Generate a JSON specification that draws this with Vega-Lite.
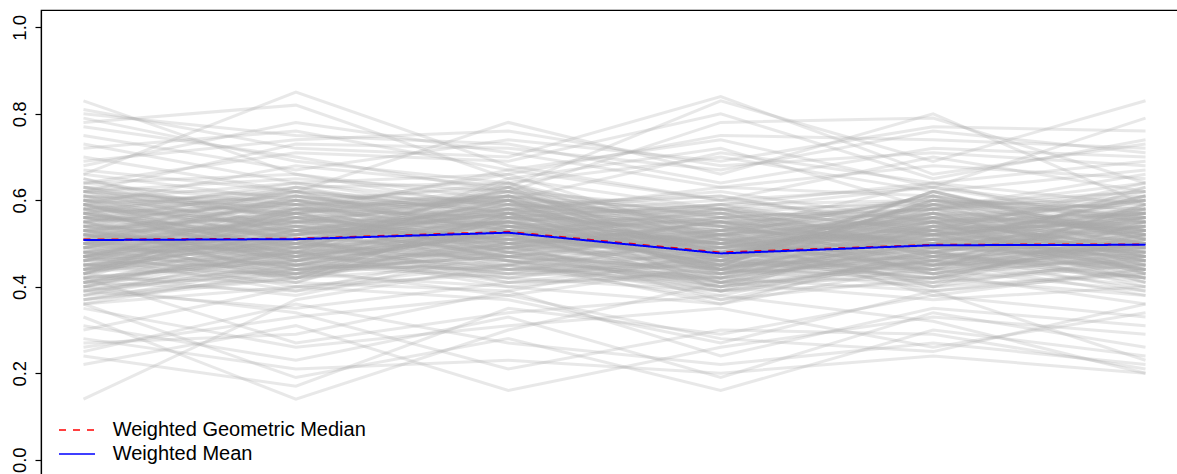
{
"$schema": "https://vega.github.io/schema/vega-lite/v6.json",
"width": 1147,
"height": 467,
"autosize": "none",
"padding": {"left": 41, "top": 10, "right": 0, "bottom": 0},
"background": "white",
"config": {
  "view": {"stroke": "black", "strokeWidth": 1.2},
  "axis": {"labelFontSize": 18.5, "labelFont": "Liberation Sans"},
  "legend": {"orient": "none", "legendX": 25, "legendY": 409, "padding": 0, "symbolType": "M-1.8,0H1.8", "symbolSize": 400, "symbolStrokeWidth": 1.5, "symbolOpacity": 1, "labelFont": "Liberation Sans", "labelFontSize": 20, "labelColor": "black", "labelOffset": 24.7, "rowPadding": 3, "labelLimit": 0}
},
"layer": [
  {
    "data": {"values": "i,x,y\n1,1,.14\n1,2,.37\n1,3,.45\n1,4,.52\n1,5,.48\n1,6,.55\n2,1,.33\n2,2,.14\n2,3,.30\n2,4,.41\n2,5,.46\n2,6,.40\n3,1,.24\n3,2,.17\n3,3,.35\n3,4,.29\n3,5,.38\n3,6,.33\n4,1,.22\n4,2,.31\n4,3,.16\n4,4,.26\n4,5,.33\n4,6,.29\n5,1,.36\n5,2,.19\n5,3,.28\n5,4,.16\n5,5,.30\n5,6,.24\n6,1,.28\n6,2,.21\n6,3,.23\n6,4,.20\n6,5,.24\n6,6,.20\n7,1,.25\n7,2,.36\n7,3,.27\n7,4,.22\n7,5,.27\n7,6,.22\n8,1,.31\n8,2,.23\n8,3,.33\n8,4,.19\n8,5,.34\n8,6,.26\n9,1,.40\n9,2,.34\n9,3,.21\n9,4,.30\n9,5,.29\n9,6,.21\n10,1,.27\n10,2,.29\n10,3,.39\n10,4,.24\n10,5,.35\n10,6,.31\n11,1,.35\n11,2,.26\n11,3,.31\n11,4,.35\n11,5,.26\n11,6,.34\n12,1,.30\n12,2,.40\n12,3,.37\n12,4,.27\n12,5,.39\n12,6,.23\n13,1,.83\n13,2,.66\n13,3,.60\n13,4,.71\n13,5,.64\n13,6,.69\n14,1,.66\n14,2,.85\n14,3,.68\n14,4,.60\n14,5,.70\n14,6,.62\n15,1,.78\n15,2,.82\n15,3,.65\n15,4,.72\n15,5,.58\n15,6,.66\n16,1,.81\n16,2,.72\n16,3,.70\n16,4,.84\n16,5,.66\n16,6,.73\n17,1,.70\n17,2,.62\n17,3,.78\n17,4,.66\n17,5,.80\n17,6,.59\n18,1,.59\n18,2,.68\n18,3,.63\n18,4,.83\n18,5,.69\n18,6,.83\n19,1,.80\n19,2,.75\n19,3,.73\n19,4,.64\n19,5,.72\n19,6,.70\n20,1,.77\n20,2,.70\n20,3,.62\n20,4,.78\n20,5,.79\n20,6,.64\n21,1,.72\n21,2,.76\n21,3,.67\n21,4,.74\n21,5,.63\n21,6,.79\n22,1,.75\n22,2,.67\n22,3,.74\n22,4,.69\n22,5,.77\n22,6,.76\n23,1,.69\n23,2,.74\n23,3,.76\n23,4,.68\n23,5,.71\n23,6,.68\n24,1,.64\n24,2,.71\n24,3,.69\n24,4,.80\n24,5,.65\n24,6,.74\n25,1,.73\n25,2,.64\n25,3,.66\n25,4,.75\n25,5,.74\n25,6,.72\n26,1,.68\n26,2,.78\n26,3,.71\n26,4,.63\n26,5,.68\n26,6,.65\n27,1,.79\n27,2,.69\n27,3,.64\n27,4,.70\n27,5,.62\n27,6,.67\n28,1,.62\n28,2,.73\n28,3,.72\n28,4,.67\n28,5,.76\n28,6,.71\n29,1,.26\n29,2,.33\n29,3,.38\n29,4,.28\n29,5,.25\n29,6,.36\n30,1,.42\n30,2,.27\n30,3,.34\n30,4,.38\n30,5,.32\n30,6,.20\n31,1,.52\n31,2,.48\n31,3,.55\n31,4,.44\n31,5,.50\n31,6,.47\n32,1,.45\n32,2,.50\n32,3,.47\n32,4,.52\n32,5,.43\n32,6,.49\n33,1,.58\n33,2,.61\n33,3,.55\n33,4,.50\n33,5,.57\n33,6,.53\n34,1,.41\n34,2,.44\n34,3,.49\n34,4,.40\n34,5,.46\n34,6,.51\n35,1,.63\n35,2,.57\n35,3,.60\n35,4,.55\n35,5,.52\n35,6,.58\n36,1,.49\n36,2,.53\n36,3,.58\n36,4,.47\n36,5,.55\n36,6,.44\n37,1,.37\n37,2,.42\n37,3,.45\n37,4,.39\n37,5,.41\n37,6,.46\n38,1,.55\n38,2,.46\n38,3,.52\n38,4,.58\n38,5,.49\n38,6,.56\n39,1,.60\n39,2,.64\n39,3,.57\n39,4,.52\n39,5,.61\n39,6,.55\n40,1,.47\n40,2,.39\n40,3,.44\n40,4,.42\n40,5,.48\n40,6,.41\n41,1,.53\n41,2,.57\n41,3,.62\n41,4,.48\n41,5,.45\n41,6,.50\n42,1,.44\n42,2,.51\n42,3,.41\n42,4,.46\n42,5,.53\n42,6,.48\n43,1,.66\n43,2,.60\n43,3,.63\n43,4,.56\n43,5,.59\n43,6,.62\n44,1,.39\n44,2,.45\n44,3,.50\n44,4,.37\n44,5,.42\n44,6,.38\n45,1,.51\n45,2,.55\n45,3,.49\n45,4,.53\n45,5,.58\n45,6,.52\n46,1,.57\n46,2,.49\n46,3,.54\n46,4,.45\n46,5,.51\n46,6,.60\n47,1,.42\n47,2,.47\n47,3,.53\n47,4,.49\n47,5,.39\n47,6,.44\n48,1,.61\n48,2,.58\n48,3,.66\n48,4,.51\n48,5,.56\n48,6,.54\n49,1,.48\n49,2,.43\n49,3,.46\n49,4,.41\n49,5,.50\n49,6,.57\n50,1,.54\n50,2,.62\n50,3,.59\n50,4,.57\n50,5,.47\n50,6,.49\n51,1,.36\n51,2,.40\n51,3,.43\n51,4,.45\n51,5,.44\n51,6,.39\n52,1,.59\n52,2,.53\n52,3,.50\n52,4,.46\n52,5,.54\n52,6,.61\n53,1,.46\n53,2,.56\n53,3,.61\n53,4,.54\n53,5,.60\n53,6,.51\n54,1,.50\n54,2,.45\n54,3,.42\n54,4,.39\n54,5,.47\n54,6,.45\n55,1,.64\n55,2,.66\n55,3,.58\n55,4,.62\n55,5,.55\n55,6,.57\n56,1,.43\n56,2,.38\n56,3,.48\n56,4,.44\n56,5,.40\n56,6,.43\n57,1,.56\n57,2,.52\n57,3,.57\n57,4,.60\n57,5,.63\n57,6,.55\n58,1,.40\n58,2,.48\n58,3,.40\n58,4,.36\n58,5,.45\n58,6,.47\n59,1,.62\n59,2,.59\n59,3,.64\n59,4,.53\n59,5,.58\n59,6,.64\n60,1,.47\n60,2,.54\n60,3,.51\n60,4,.50\n60,5,.52\n60,6,.42\n61,1,.53\n61,2,.44\n61,3,.47\n61,4,.43\n61,5,.49\n61,6,.53\n62,1,.38\n62,2,.46\n62,3,.52\n62,4,.41\n62,5,.37\n62,6,.40\n63,1,.58\n63,2,.63\n63,3,.56\n63,4,.59\n63,5,.64\n63,6,.59\n64,1,.45\n64,2,.41\n64,3,.39\n64,4,.48\n64,5,.43\n64,6,.50\n65,1,.51\n65,2,.58\n65,3,.60\n65,4,.44\n65,5,.53\n65,6,.46\n66,1,.65\n66,2,.55\n66,3,.61\n66,4,.57\n66,5,.60\n66,6,.56\n67,1,.41\n67,2,.49\n67,3,.44\n67,4,.51\n67,5,.46\n67,6,.38\n68,1,.55\n68,2,.60\n68,3,.53\n68,4,.47\n68,5,.42\n68,6,.52\n69,1,.49\n69,2,.42\n69,3,.57\n69,4,.43\n69,5,.55\n69,6,.60\n70,1,.60\n70,2,.51\n70,3,.49\n70,4,.55\n70,5,.50\n70,6,.48\n71,1,.44\n71,2,.53\n71,3,.46\n71,4,.38\n71,5,.48\n71,6,.54\n72,1,.52\n72,2,.47\n72,3,.63\n72,4,.52\n72,5,.57\n72,6,.45\n73,1,.39\n73,2,.35\n73,3,.41\n73,4,.42\n73,5,.39\n73,6,.43\n74,1,.57\n74,2,.64\n74,3,.59\n74,4,.61\n74,5,.53\n74,6,.63\n75,1,.48\n75,2,.52\n75,3,.55\n75,4,.46\n75,5,.62\n75,6,.50\n76,1,.63\n76,2,.56\n76,3,.51\n76,4,.49\n76,5,.56\n76,6,.47\n77,1,.46\n77,2,.44\n77,3,.38\n77,4,.45\n77,5,.41\n77,6,.55\n78,1,.54\n78,2,.50\n78,3,.58\n78,4,.54\n78,5,.48\n78,6,.42\n79,1,.42\n79,2,.57\n79,3,.48\n79,4,.40\n79,5,.51\n79,6,.49\n80,1,.59\n80,2,.48\n80,3,.65\n80,4,.58\n80,5,.59\n80,6,.57\n81,1,.50\n81,2,.61\n81,3,.54\n81,4,.50\n81,5,.45\n81,6,.53\n82,1,.37\n82,2,.43\n82,3,.51\n82,4,.47\n82,5,.43\n82,6,.36\n83,1,.61\n83,2,.54\n83,3,.47\n83,4,.44\n83,5,.58\n83,6,.61\n84,1,.44\n84,2,.46\n84,3,.56\n84,4,.53\n84,5,.40\n84,6,.47\n85,1,.56\n85,2,.59\n85,3,.50\n85,4,.56\n85,5,.54\n85,6,.58\n86,1,.48\n86,2,.40\n86,3,.45\n86,4,.37\n86,5,.47\n86,6,.44\n87,1,.67\n87,2,.62\n87,3,.57\n87,4,.63\n87,5,.61\n87,6,.52\n88,1,.43\n88,2,.50\n88,3,.60\n88,4,.42\n88,5,.52\n88,6,.56\n89,1,.53\n89,2,.45\n89,3,.53\n89,4,.48\n89,5,.56\n89,6,.48\n90,1,.58\n90,2,.55\n90,3,.62\n90,4,.51\n90,5,.44\n90,6,.59\n91,1,.40\n91,2,.51\n91,3,.42\n91,4,.49\n91,5,.55\n91,6,.41\n92,1,.55\n92,2,.42\n92,3,.49\n92,4,.41\n92,5,.50\n92,6,.54\n93,1,.47\n93,2,.58\n93,3,.56\n93,4,.55\n93,5,.49\n93,6,.46\n94,1,.62\n94,2,.52\n94,3,.59\n94,4,.48\n94,5,.57\n94,6,.50\n95,1,.45\n95,2,.47\n95,3,.43\n95,4,.52\n95,5,.38\n95,6,.44\n96,1,.51\n96,2,.63\n96,3,.64\n96,4,.45\n96,5,.60\n96,6,.55\n97,1,.36\n97,2,.44\n97,3,.47\n97,4,.40\n97,5,.45\n97,6,.48\n98,1,.57\n98,2,.49\n98,3,.52\n98,4,.59\n98,5,.52\n98,6,.62\n99,1,.49\n99,2,.56\n99,3,.44\n99,4,.46\n99,5,.62\n99,6,.51\n100,1,.64\n100,2,.59\n100,3,.61\n100,4,.54\n100,5,.48\n100,6,.53\n101,1,.42\n101,2,.41\n101,3,.54\n101,4,.50\n101,5,.53\n101,6,.45\n102,1,.54\n102,2,.53\n102,3,.48\n102,4,.43\n102,5,.46\n102,6,.57\n103,1,.46\n103,2,.60\n103,3,.58\n103,4,.57\n103,5,.56\n103,6,.43\n104,1,.59\n104,2,.46\n104,3,.55\n104,4,.47\n104,5,.59\n104,6,.49\n105,1,.50\n105,2,.43\n105,3,.40\n105,4,.44\n105,5,.42\n105,6,.52\n106,1,.38\n106,2,.49\n106,3,.46\n106,4,.36\n106,5,.49\n106,6,.47\n107,1,.60\n107,2,.57\n107,3,.67\n107,4,.60\n107,5,.55\n107,6,.60\n108,1,.48\n108,2,.54\n108,3,.50\n108,4,.53\n108,5,.51\n108,6,.40\n109,1,.55\n109,2,.48\n109,3,.43\n109,4,.42\n109,5,.61\n109,6,.56\n110,1,.43\n110,2,.55\n110,3,.57\n110,4,.48\n110,5,.44\n110,6,.50\n111,1,.52\n111,2,.62\n111,3,.52\n111,4,.56\n111,5,.58\n111,6,.46\n112,1,.65\n112,2,.53\n112,3,.56\n112,4,.50\n112,5,.53\n112,6,.64\n113,1,.41\n113,2,.39\n113,3,.49\n113,4,.45\n113,5,.47\n113,6,.42\n114,1,.57\n114,2,.51\n114,3,.60\n114,4,.39\n114,5,.54\n114,6,.52\n115,1,.47\n115,2,.45\n115,3,.53\n115,4,.51\n115,5,.40\n115,6,.55\n116,1,.53\n116,2,.59\n116,3,.46\n116,4,.47\n116,5,.57\n116,6,.48\n117,1,.62\n117,2,.65\n117,3,.62\n117,4,.58\n117,5,.63\n117,6,.57\n118,1,.44\n118,2,.48\n118,3,.41\n118,4,.43\n118,5,.50\n118,6,.61\n119,1,.50\n119,2,.56\n119,3,.58\n119,4,.54\n119,5,.46\n119,6,.45\n120,1,.39\n120,2,.47\n120,3,.52\n120,4,.46\n120,5,.42\n120,6,.51\n121,1,.56\n121,2,.44\n121,3,.50\n121,4,.52\n121,5,.55\n121,6,.42\n122,1,.61\n122,2,.60\n122,3,.54\n122,4,.45\n122,5,.60\n122,6,.58\n123,1,.46\n123,2,.52\n123,3,.47\n123,4,.49\n123,5,.52\n123,6,.49\n124,1,.52\n124,2,.41\n124,3,.56\n124,4,.41\n124,5,.48\n124,6,.54\n125,1,.58\n125,2,.57\n125,3,.61\n125,4,.55\n125,5,.43\n125,6,.47\n126,1,.43\n126,2,.53\n126,3,.45\n126,4,.56\n126,5,.58\n126,6,.59\n127,1,.49\n127,2,.49\n127,3,.59\n127,4,.48\n127,5,.51\n127,6,.44\n128,1,.54\n128,2,.46\n128,3,.51\n128,4,.53\n128,5,.64\n128,6,.53\n129,1,.40\n129,2,.43\n129,3,.48\n129,4,.39\n129,5,.44\n129,6,.46\n130,1,.63\n130,2,.61\n130,3,.53\n130,4,.57\n130,5,.49\n130,6,.56\n131,1,.47\n131,2,.50\n131,3,.63\n131,4,.44\n131,5,.54\n131,6,.50\n132,1,.55\n132,2,.58\n132,3,.49\n132,4,.50\n132,5,.47\n132,6,.63\n133,1,.45\n133,2,.54\n133,3,.55\n133,4,.58\n133,5,.53\n133,6,.41\n134,1,.51\n134,2,.42\n134,3,.57\n134,4,.46\n134,5,.59\n134,6,.52\n135,1,.59\n135,2,.62\n135,3,.50\n135,4,.52\n135,5,.56\n135,6,.60\n136,1,.37\n136,2,.45\n136,3,.44\n136,4,.43\n136,5,.51\n136,6,.49\n137,1,.53\n137,2,.48\n137,3,.64\n137,4,.50\n137,5,.41\n137,6,.45\n138,1,.48\n138,2,.57\n138,3,.52\n138,4,.41\n138,5,.55\n138,6,.57\n139,1,.60\n139,2,.53\n139,3,.58\n139,4,.61\n139,5,.52\n139,6,.54\n140,1,.42\n140,2,.46\n140,3,.42\n140,4,.47\n140,5,.48\n140,6,.39\n141,1,.56\n141,2,.55\n141,3,.55\n141,4,.45\n141,5,.62\n141,6,.51\n142,1,.50\n142,2,.60\n142,3,.48\n142,4,.55\n142,5,.45\n142,6,.56\n143,1,.45\n143,2,.43\n143,3,.57\n143,4,.52\n143,5,.50\n143,6,.48\n144,1,.61\n144,2,.50\n144,3,.60\n144,4,.49\n144,5,.58\n144,6,.62\n145,1,.47\n145,2,.57\n145,3,.46\n145,4,.42\n145,5,.53\n145,6,.46\n146,1,.54\n146,2,.52\n146,3,.62\n146,4,.56\n146,5,.46\n146,6,.50\n147,1,.41\n147,2,.48\n147,3,.51\n147,4,.48\n147,5,.57\n147,6,.53\n148,1,.58\n148,2,.45\n148,3,.53\n148,4,.44\n148,5,.52\n148,6,.44\n149,1,.49\n149,2,.61\n149,3,.56\n149,4,.59\n149,5,.60\n149,6,.58\n150,1,.52\n150,2,.44\n150,3,.45\n150,4,.51\n150,5,.49\n150,6,.55\n151,1,.46\n151,2,.55\n151,3,.60\n151,4,.46\n151,5,.44\n151,6,.52\n152,1,.57\n152,2,.51\n152,3,.50\n152,4,.54\n152,5,.55\n152,6,.47\n153,1,.43\n153,2,.58\n153,3,.53\n153,4,.50\n153,5,.59\n153,6,.60\n154,1,.60\n154,2,.47\n154,3,.57\n154,4,.43\n154,5,.47\n154,6,.49\n155,1,.50\n155,2,.54\n155,3,.47\n155,4,.52\n155,5,.61\n155,6,.43\n156,1,.38\n156,2,.42\n156,3,.50\n156,4,.44\n156,5,.43\n156,6,.50\n157,1,.55\n157,2,.63\n157,3,.54\n157,4,.57\n157,5,.52\n157,6,.56\n158,1,.48\n158,2,.49\n158,3,.61\n158,4,.47\n158,5,.56\n158,6,.53\n159,1,.62\n159,2,.56\n159,3,.48\n159,4,.53\n159,5,.50\n159,6,.45\n160,1,.44\n160,2,.51\n160,3,.55\n160,4,.49\n160,5,.48\n160,6,.58\n161,1,.53\n161,2,.47\n161,3,.52\n161,4,.40\n161,5,.54\n161,6,.48\n162,1,.57\n162,2,.59\n162,3,.59\n162,4,.55\n162,5,.58\n162,6,.52\n163,1,.45\n163,2,.45\n163,3,.44\n163,4,.45\n163,5,.45\n163,6,.54\n164,1,.51\n164,2,.52\n164,3,.58\n164,4,.51\n164,5,.52\n164,6,.46\n165,1,.59\n165,2,.54\n165,3,.51\n165,4,.58\n165,5,.47\n165,6,.57\n166,1,.47\n166,2,.56\n166,3,.54\n166,4,.48\n166,5,.50\n166,6,.50\n167,1,.52\n167,2,.50\n167,3,.49\n167,4,.55\n167,5,.53\n167,6,.55\n168,1,.49\n168,2,.47\n168,3,.56\n168,4,.50\n168,5,.49\n168,6,.51\n169,1,.56\n169,2,.53\n169,3,.52\n169,4,.46\n169,5,.55\n169,6,.49\n170,1,.50\n170,2,.51\n170,3,.54\n170,4,.52\n170,5,.51\n170,6,.53\n171,1,.46\n171,2,.49\n171,3,.53\n171,4,.45\n171,5,.47\n171,6,.52\n172,1,.54\n172,2,.56\n172,3,.50\n172,4,.49\n172,5,.54\n172,6,.44\n173,1,.41\n173,2,.52\n173,3,.57\n173,4,.44\n173,5,.52\n173,6,.56\n174,1,.58\n174,2,.46\n174,3,.48\n174,4,.52\n174,5,.45\n174,6,.50\n175,1,.49\n175,2,.58\n175,3,.61\n175,4,.43\n175,5,.56\n175,6,.47\n176,1,.44\n176,2,.43\n176,3,.50\n176,4,.55\n176,5,.49\n176,6,.61\n177,1,.60\n177,2,.55\n177,3,.56\n177,4,.47\n177,5,.59\n177,6,.53\n178,1,.52\n178,2,.47\n178,3,.45\n178,4,.40\n178,5,.46\n178,6,.42\n179,1,.47\n179,2,.53\n179,3,.59\n179,4,.56\n179,5,.52\n179,6,.57\n180,1,.56\n180,2,.50\n180,3,.43\n180,4,.46\n180,5,.42\n180,6,.48\n181,1,.43\n181,2,.59\n181,3,.52\n181,4,.50\n181,5,.57\n181,6,.46\n182,1,.63\n182,2,.52\n182,3,.57\n182,4,.54\n182,5,.50\n182,6,.58\n183,1,.51\n183,2,.44\n183,3,.54\n183,4,.45\n183,5,.60\n183,6,.51\n184,1,.40\n184,2,.50\n184,3,.46\n184,4,.42\n184,5,.48\n184,6,.44\n185,1,.57\n185,2,.61\n185,3,.60\n185,4,.58\n185,5,.53\n185,6,.55\n186,1,.48\n186,2,.45\n186,3,.49\n186,4,.51\n186,5,.44\n186,6,.59\n187,1,.53\n187,2,.57\n187,3,.63\n187,4,.46\n187,5,.55\n187,6,.49\n188,1,.45\n188,2,.48\n188,3,.47\n188,4,.53\n188,5,.51\n188,6,.43\n189,1,.59\n189,2,.51\n189,3,.55\n189,4,.44\n189,5,.57\n189,6,.56\n190,1,.50\n190,2,.55\n190,3,.51\n190,4,.57\n190,5,.47\n190,6,.52\n191,1,.42\n191,2,.46\n191,3,.58\n191,4,.49\n191,5,.54\n191,6,.47\n192,1,.55\n192,2,.60\n192,3,.53\n192,4,.42\n192,5,.49\n192,6,.54\n193,1,.47\n193,2,.42\n193,3,.52\n193,4,.47\n193,5,.58\n193,6,.50\n194,1,.61\n194,2,.57\n194,3,.49\n194,4,.55\n194,5,.45\n194,6,.46\n195,1,.52\n195,2,.49\n195,3,.60\n195,4,.51\n195,5,.51\n195,6,.60\n196,1,.39\n196,2,.44\n196,3,.47\n196,4,.41\n196,5,.42\n196,6,.45\n197,1,.56\n197,2,.62\n197,3,.57\n197,4,.53\n197,5,.61\n197,6,.51\n198,1,.46\n198,2,.51\n198,3,.44\n198,4,.48\n198,5,.53\n198,6,.57\n199,1,.53\n199,2,.46\n199,3,.55\n199,4,.59\n199,5,.48\n199,6,.42\n200,1,.58\n200,2,.54\n200,3,.62\n200,4,.49\n200,5,.55\n200,6,.55\n201,1,.44\n201,2,.56\n201,3,.51\n201,4,.44\n201,5,.50\n201,6,.48\n202,1,.50\n202,2,.48\n202,3,.59\n202,4,.54\n202,5,.43\n202,6,.53\n203,1,.62\n203,2,.58\n203,3,.54\n203,4,.50\n203,5,.59\n203,6,.47\n204,1,.48\n204,2,.50\n204,3,.46\n204,4,.39\n204,5,.46\n204,6,.56\n205,1,.54\n205,2,.43\n205,3,.56\n205,4,.52\n205,5,.56\n205,6,.50\n206,1,.43\n206,2,.53\n206,3,.61\n206,4,.47\n206,5,.52\n206,6,.44\n207,1,.57\n207,2,.47\n207,3,.52\n207,4,.56\n207,5,.48\n207,6,.59\n208,1,.51\n208,2,.60\n208,3,.50\n208,4,.45\n208,5,.62\n208,6,.52\n209,1,.45\n209,2,.52\n209,3,.55\n209,4,.50\n209,5,.44\n209,6,.49\n210,1,.59\n210,2,.49\n210,3,.58\n210,4,.48\n210,5,.54\n210,6,.54\n211,1,.49\n211,2,.57\n211,3,.48\n211,4,.43\n211,5,.50\n211,6,.61\n212,1,.55\n212,2,.45\n212,3,.54\n212,4,.55\n212,5,.57\n212,6,.45\n213,1,.41\n213,2,.48\n213,3,.49\n213,4,.46\n213,5,.45\n213,6,.51\n214,1,.60\n214,2,.59\n214,3,.60\n214,4,.52\n214,5,.53\n214,6,.57\n215,1,.47\n215,2,.51\n215,3,.57\n215,4,.58\n215,5,.49\n215,6,.47\n216,1,.52\n216,2,.55\n216,3,.47\n216,4,.44\n216,5,.60\n216,6,.53\n217,1,.56\n217,2,.48\n217,3,.53\n217,4,.49\n217,5,.46\n217,6,.58\n218,1,.44\n218,2,.58\n218,3,.56\n218,4,.53\n218,5,.55\n218,6,.43\n219,1,.53\n219,2,.53\n219,3,.51\n219,4,.47\n219,5,.51\n219,6,.50\n220,1,.50\n220,2,.50\n220,3,.55\n220,4,.51\n220,5,.52\n220,6,.55", "format": {"type": "csv", "parse": {"i": "number", "x": "number", "y": "number"}}},
    "mark": {"type": "line", "color": "#aaaaaa", "strokeWidth": 3, "strokeOpacity": 0.27},
    "encoding": {
      "x": {"field": "x", "type": "quantitative", "scale": {"domain": [0.8, 6.2], "nice": false, "zero": false}, "axis": null},
      "y": {"field": "y", "type": "quantitative", "scale": {"domain": [-0.04, 1.04], "nice": false, "zero": false}, "axis": {"values": [0, 0.2, 0.4, 0.6, 0.8, 1.0], "format": ".1f", "grid": false, "domainColor": "black", "domainWidth": 1.2, "tickColor": "black", "tickWidth": 1.2, "tickSize": 6, "labelColor": "black", "labelAngle": 270, "labelAlign": "center", "labelBaseline": "alphabetic", "labelPadding": 10, "labelOverlap": false, "labelFlush": false}, "title": null},
      "detail": {"field": "i", "type": "nominal"}
    }
  },
  {
    "data": {"values": [
      {"s": "Weighted Geometric Median", "x": 1, "y": 0.509},
      {"s": "Weighted Geometric Median", "x": 2, "y": 0.511},
      {"s": "Weighted Geometric Median", "x": 3, "y": 0.527},
      {"s": "Weighted Geometric Median", "x": 4, "y": 0.479},
      {"s": "Weighted Geometric Median", "x": 5, "y": 0.497},
      {"s": "Weighted Geometric Median", "x": 6, "y": 0.498},
      {"s": "Weighted Mean", "x": 1, "y": 0.508},
      {"s": "Weighted Mean", "x": 2, "y": 0.510},
      {"s": "Weighted Mean", "x": 3, "y": 0.525},
      {"s": "Weighted Mean", "x": 4, "y": 0.477},
      {"s": "Weighted Mean", "x": 5, "y": 0.496},
      {"s": "Weighted Mean", "x": 6, "y": 0.497}
    ]},
    "mark": {"type": "line", "strokeWidth": 2},
    "encoding": {
      "x": {"field": "x", "type": "quantitative", "scale": {"domain": [0.8, 6.2], "nice": false, "zero": false}, "axis": null},
      "y": {"field": "y", "type": "quantitative", "scale": {"domain": [-0.04, 1.04], "nice": false, "zero": false}, "axis": {"values": [0, 0.2, 0.4, 0.6, 0.8, 1.0], "format": ".1f", "grid": false, "domainColor": "black", "domainWidth": 1.2, "tickColor": "black", "tickWidth": 1.2, "tickSize": 6, "labelColor": "black", "labelAngle": 270, "labelAlign": "center", "labelBaseline": "alphabetic", "labelPadding": 10, "labelOverlap": false, "labelFlush": false}, "title": null},
      "color": {"field": "s", "type": "nominal", "scale": {"domain": ["Weighted Geometric Median", "Weighted Mean"], "range": ["#ff0000", "#0000ff"]}, "title": null},
      "strokeDash": {"field": "s", "type": "nominal", "scale": {"domain": ["Weighted Geometric Median", "Weighted Mean"], "range": [[7, 7], [1, 0]]}, "title": null}
    }
  }
]
}
